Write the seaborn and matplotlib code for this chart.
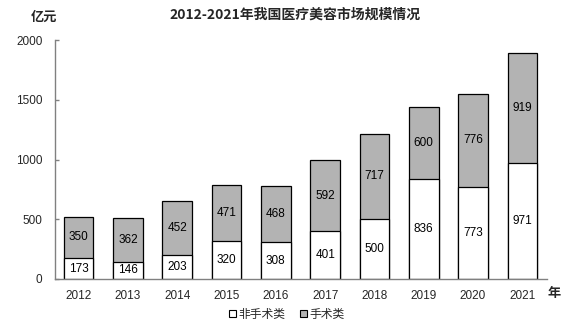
import matplotlib
matplotlib.use("Agg")
import matplotlib.pyplot as plt
import seaborn as sns
import pandas as pd
from matplotlib.patches import Patch

years = ["2012", "2013", "2014", "2015", "2016", "2017", "2018", "2019", "2020", "2021"]
non_surgical = [173, 146, 203, 320, 308, 401, 500, 836, 773, 971]
surgical = [350, 362, 452, 471, 468, 592, 717, 600, 776, 919]
y_ticks = [0, 500, 1000, 1500, 2000]

sns.set_theme(style="white")
plt.rcParams["font.family"] = ["Liberation Sans", "Noto Sans CJK SC", "DejaVu Sans"]

df = pd.DataFrame({"year": years, "non": non_surgical, "surg": surgical})
df["total"] = df["non"] + df["surg"]

fig = plt.figure(figsize=(5.85, 3.29), dpi=100)
ax = fig.add_axes([0.094, 0.152, 0.841, 0.726])

grey = "#b3b3b3"
sns.barplot(data=df, x="year", y="total", color=grey, edgecolor="black",
            linewidth=0.9, width=0.6, saturation=1, ax=ax)
sns.barplot(data=df, x="year", y="non", color="white", edgecolor="black",
            linewidth=0.9, width=0.6, saturation=1, ax=ax)

num_font = dict(fontsize=8.5, ha="center", va="center", color="black")
for i, (n, s) in enumerate(zip(df["non"], df["surg"])):
    ax.text(i, n / 2, f"{n}", **num_font)
    ax.text(i, n + s / 2, f"{s}", **num_font)

ax.set_ylim(0, 2000)
ax.set_xlim(-0.48, 9.5)
ax.set_yticks(y_ticks)
ax.set_yticklabels([str(v) for v in y_ticks], fontsize=8.5)
ax.set_xticks(range(len(years)))
ax.set_xticklabels(years, fontsize=8.5)
ax.set_xlabel("")
ax.set_ylabel("")

for side in ["top", "right"]:
    ax.spines[side].set_visible(False)
for side in ["left", "bottom"]:
    ax.spines[side].set_color("#808080")
    ax.spines[side].set_linewidth(1.0)
ax.tick_params(axis="y", direction="in", length=3, color="#808080", width=1, pad=9, left=True)
ax.tick_params(axis="x", length=0, pad=8)

fig.text(0.505, 0.955, "2012-2021年我国医疗美容市场规模情况", ha="center", va="center",
         fontsize=10, fontweight="bold", family=["Noto Sans CJK SC", "DejaVu Sans"])
fig.text(0.075, 0.948, "亿元", ha="center", va="center", fontsize=9.5, fontweight="bold",
         family=["Noto Sans CJK SC"])
fig.text(0.948, 0.108, "年", ha="center", va="center", fontsize=9.5, fontweight="bold",
         family=["Noto Sans CJK SC"])

handles = [Patch(facecolor="white", edgecolor="black", linewidth=0.8, label="非手术类"),
           Patch(facecolor=grey, edgecolor="black", linewidth=0.8, label="手术类")]
fig.legend(handles=handles, loc="center", bbox_to_anchor=(0.49, 0.045), ncol=2, frameon=False,
           handlelength=0.6, handleheight=0.6, handletextpad=0.2, columnspacing=1.2,
           prop={"family": "Noto Sans CJK SC", "size": 8.5})

fig.savefig("out.png", dpi=100)
